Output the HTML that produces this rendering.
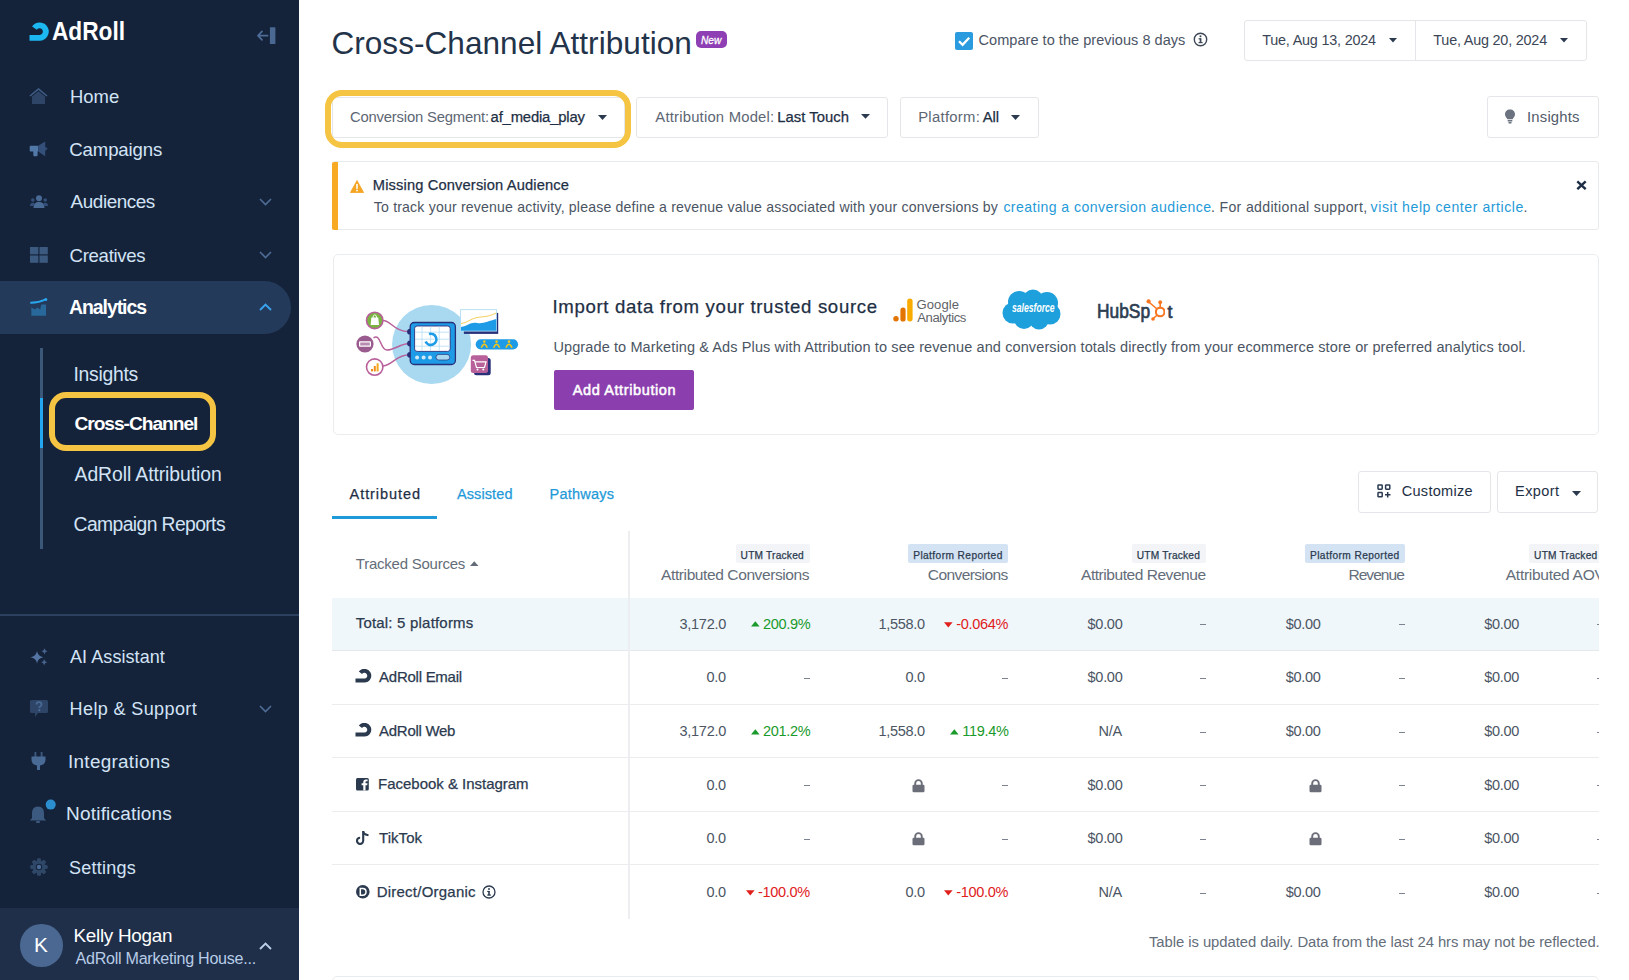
<!DOCTYPE html>
<html><head><meta charset="utf-8"><title>Cross-Channel Attribution</title>
<style>
html,body{margin:0;padding:0;width:1629px;height:980px;overflow:hidden;background:#fff;}
body{position:relative;font-family:"Liberation Sans",sans-serif;}
.t{position:absolute;white-space:nowrap;}
.r{position:absolute;box-sizing:border-box;}
</style></head><body>
<div class="r" style="left:0px;top:0px;width:299px;height:980px;z-index:0;background:#15233a;"></div>
<svg class="r" style="left:28px;top:21px;z-index:3" width="23" height="22" viewBox="0 0 23 22"><path d="M1.5 16.8 H11.6 A6.2 6.2 0 1 0 6.46 7.13" fill="none" stroke="#1cb8f2" stroke-width="5.8"/></svg>
<div class="t" style="left:51.62px;top:19.40px;font-size:25.87px;line-height:25.87px;color:#ffffff;font-weight:700;transform:scaleX(0.8765);transform-origin:0 0;z-index:2;">AdRoll</div>
<svg class="r" style="left:256px;top:26px;z-index:3" width="21" height="19" viewBox="0 0 21 19"><path d="M2.3 9.6 H11.6 M6 5.4 L2 9.6 L6 13.8" fill="none" stroke="#4d6d98" stroke-width="1.7" stroke-linecap="round" stroke-linejoin="round"/><rect x="13.9" y="1.3" width="5.5" height="16.6" rx="0.5" fill="#4a6892"/></svg>
<svg class="r" style="left:29px;top:88px;z-index:3" width="19" height="16" viewBox="0 0 19 16"><path d="M1 8 L9.5 1 L18 8" fill="none" stroke="#3f5e88" stroke-width="1.6"/><path d="M3 8.5 L9.5 3.2 L16 8.5 V16 H3 Z" fill="#2e4567"/></svg>
<div class="t" style="left:70.00px;top:88.12px;font-size:18.46px;line-height:18.46px;color:#d3e3f6;z-index:2;">Home</div>
<svg class="r" style="left:29px;top:141px;z-index:3" width="19" height="16" viewBox="0 0 19 16"><rect x="0.7" y="4.7" width="8.5" height="5.8" rx="1" fill="#5278a8"/><rect x="4.3" y="9.5" width="4.3" height="5.8" rx="1.2" fill="#5278a8"/><path d="M9.2 4.7 L16.2 0.4 V15.2 L9.2 10.5 Z" fill="#34507a"/><path d="M16.2 5.6 L18.7 7.8 L16.2 10Z" fill="#34507a"/></svg>
<div class="t" style="left:69.30px;top:141.35px;font-size:18.60px;line-height:18.60px;color:#d3e3f6;letter-spacing:-0.138px;z-index:2;">Campaigns</div>
<svg class="r" style="left:30px;top:195px;z-index:3" width="18" height="13" viewBox="0 0 18 13"><circle cx="9" cy="3.2" r="3" fill="#4a6a96"/><path d="M3.5 13 C3.5 8.5 6 7 9 7 C12 7 14.5 8.5 14.5 13 Z" fill="#4a6a96"/><circle cx="2.8" cy="5" r="1.8" fill="#34507a"/><circle cx="15.2" cy="5" r="1.8" fill="#34507a"/><path d="M0 11 C0 8.5 1.2 7.8 2.8 7.8 C3.8 7.8 4.2 8 4.5 8.5 L3.5 11Z M18 11 C18 8.5 16.8 7.8 15.2 7.8 C14.2 7.8 13.8 8 13.5 8.5 L14.5 11Z" fill="#34507a"/></svg>
<div class="t" style="left:70.60px;top:193.41px;font-size:18.90px;line-height:18.90px;color:#d3e3f6;letter-spacing:-0.438px;z-index:2;">Audiences</div>
<svg class="r" style="left:259px;top:197.5px;z-index:3" width="13" height="8" viewBox="0 0 13 8"><path d="M1 1 L6.5 6.5 L12 1" fill="none" stroke="#4d6d96" stroke-width="1.6"/></svg>
<svg class="r" style="left:30px;top:247px;z-index:3" width="18" height="16" viewBox="0 0 18 16"><rect x="0" y="0" width="8.3" height="7.3" fill="#3c5a80"/><rect x="9.5" y="0" width="8.3" height="7.3" fill="#3c5a80"/><rect x="0" y="8.5" width="8.3" height="7.3" fill="#3c5a80"/><rect x="9.5" y="8.5" width="8.3" height="7.3" fill="#3c5a80"/></svg>
<div class="t" style="left:69.60px;top:246.55px;font-size:18.60px;line-height:18.60px;color:#d3e3f6;letter-spacing:-0.312px;z-index:2;">Creatives</div>
<svg class="r" style="left:259px;top:251px;z-index:3" width="13" height="8" viewBox="0 0 13 8"><path d="M1 1 L6.5 6.5 L12 1" fill="none" stroke="#4d6d96" stroke-width="1.6"/></svg>
<div class="r" style="left:0px;top:281px;width:291px;height:53px;z-index:1;background:#233a5a;border-radius:0 27px 27px 0;"></div>
<svg class="r" style="left:30px;top:298px;z-index:3" width="18" height="18" viewBox="0 0 18 18"><path d="M1 4.7 Q9 4.6 15.3 1.6" fill="none" stroke="#2aa6ee" stroke-width="1.9" stroke-linecap="round"/><circle cx="15.8" cy="1.5" r="1.5" fill="#2aa6ee"/><path d="M1.3 9.5 L5 11.6 L7.3 9.5 L10.2 11.6 L11.3 6.6 H16 V17.7 H1.3 Z" fill="#28689a"/></svg>
<div class="t" style="left:69.00px;top:298.41px;font-size:19.48px;line-height:19.48px;color:#ffffff;font-weight:700;letter-spacing:-1.075px;z-index:2;">Analytics</div>
<svg class="r" style="left:259px;top:303px;z-index:3" width="13" height="8" viewBox="0 0 13 8"><path d="M1 7 L6.5 1.5 L12 7" fill="none" stroke="#3aa3ee" stroke-width="1.9"/></svg>
<div class="r" style="left:40px;top:348px;width:2.5px;height:201px;z-index:1;background:#3b5878;"></div>
<div class="r" style="left:40px;top:398px;width:2.5px;height:50px;z-index:2;background:#22a7f0;"></div>
<div class="t" style="left:73.40px;top:364.99px;font-size:19.33px;line-height:19.33px;color:#d3e3f6;letter-spacing:-0.257px;z-index:2;">Insights</div>
<div class="t" style="left:74.40px;top:414.46px;font-size:19.19px;line-height:19.19px;color:#ffffff;font-weight:700;letter-spacing:-1.042px;z-index:2;">Cross-Channel</div>
<div class="r" style="left:49px;top:391.5px;width:167px;height:59.5px;z-index:3;border:6px solid #f5c443;border-radius:17px;"></div>
<div class="t" style="left:74.60px;top:464.79px;font-size:19.33px;line-height:19.33px;color:#d3e3f6;letter-spacing:-0.071px;z-index:2;">AdRoll Attribution</div>
<div class="t" style="left:73.60px;top:515.39px;font-size:19.33px;line-height:19.33px;color:#d3e3f6;letter-spacing:-0.613px;z-index:2;">Campaign Reports</div>
<div class="r" style="left:0px;top:614px;width:299px;height:2px;z-index:1;background:#2b415f;"></div>
<svg class="r" style="left:30px;top:648px;z-index:3" width="18" height="18" viewBox="0 0 18 18"><path d="M7 3 Q7.8 8.2 13.5 9.2 Q7.8 10.2 7 15.4 Q6.2 10.2 0.5 9.2 Q6.2 8.2 7 3Z" fill="#5475a3"/><path d="M14.5 0.3 Q15 2.7 17.4 3.3 Q15 3.9 14.5 6.3 Q14 3.9 11.6 3.3 Q14 2.7 14.5 0.3Z" fill="#46648e"/><path d="M14.2 11.3 Q14.7 13.7 17.1 14.3 Q14.7 14.9 14.2 17.3 Q13.7 14.9 11.3 14.3 Q13.7 13.7 14.2 11.3Z" fill="#46648e"/></svg>
<div class="t" style="left:70.00px;top:648.04px;font-size:18.02px;line-height:18.02px;color:#d3e3f6;letter-spacing:0.064px;z-index:2;">AI Assistant</div>
<svg class="r" style="left:30px;top:700px;z-index:3" width="18" height="17" viewBox="0 0 18 17"><path d="M1.5 0 H16.5 Q18 0 18 1.5 V11.5 Q18 13 16.5 13 H8 L5 17 V13 H1.5 Q0 13 0 11.5 V1.5 Q0 0 1.5 0Z" fill="#2e4567"/><path d="M6.5 4.5 Q6.5 2.2 9 2.2 Q11.5 2.2 11.5 4.5 Q11.5 6 9.5 7 V8" fill="none" stroke="#4a6a96" stroke-width="1.8"/><circle cx="9.3" cy="10.2" r="1.1" fill="#4a6a96"/></svg>
<div class="t" style="left:69.60px;top:700.44px;font-size:18.02px;line-height:18.02px;color:#d3e3f6;letter-spacing:0.377px;z-index:2;">Help &amp; Support</div>
<svg class="r" style="left:259px;top:704.5px;z-index:3" width="13" height="8" viewBox="0 0 13 8"><path d="M1 1 L6.5 6.5 L12 1" fill="none" stroke="#4d6d96" stroke-width="1.6"/></svg>
<svg class="r" style="left:31px;top:752px;z-index:3" width="15" height="18" viewBox="0 0 15 18"><rect x="3.5" y="0" width="1.8" height="5" fill="#3c5a80"/><rect x="9.7" y="0" width="1.8" height="5" fill="#3c5a80"/><path d="M0.5 4.5 H14.5 V8 Q14.5 12.5 9 13.5 V18 H6 V13.5 Q0.5 12.5 0.5 8Z" fill="#4a6a96"/></svg>
<div class="t" style="left:68.00px;top:753.41px;font-size:18.90px;line-height:18.90px;color:#d3e3f6;letter-spacing:0.291px;z-index:2;">Integrations</div>
<svg class="r" style="left:29px;top:799px;z-index:3" width="27" height="25" viewBox="0 0 27 25"><path d="M9 7.5 Q15 7.5 15 14 V19 L17 21.5 H1 L3 19 V14 Q3 7.5 9 7.5Z" fill="#3c5a80"/><rect x="7" y="22" width="4" height="2" rx="1" fill="#3c5a80"/><circle cx="21.7" cy="5.6" r="5" fill="#2b8fcf"/></svg>
<div class="t" style="left:66.10px;top:804.23px;font-size:19.04px;line-height:19.04px;color:#d3e3f6;letter-spacing:0.175px;z-index:2;">Notifications</div>
<svg class="r" style="left:30px;top:858px;z-index:3" width="18" height="18" viewBox="0 0 18 18"><g fill="#2f4868"><circle cx="9" cy="9" r="6.5"/><rect x="7" y="0.3" width="4" height="17.4" rx="1.2"/><rect x="0.3" y="7" width="17.4" height="4" rx="1.2"/><rect x="7" y="0.3" width="4" height="17.4" rx="1.2" transform="rotate(45 9 9)"/><rect x="7" y="0.3" width="4" height="17.4" rx="1.2" transform="rotate(-45 9 9)"/></g><circle cx="9" cy="9" r="3.2" fill="#15233a"/><circle cx="9" cy="9" r="2.2" fill="#4a6a96"/></svg>
<div class="t" style="left:69.00px;top:858.84px;font-size:18.02px;line-height:18.02px;color:#d3e3f6;letter-spacing:0.243px;z-index:2;">Settings</div>
<div class="r" style="left:0px;top:907.5px;width:299px;height:72.5px;z-index:1;background:#1f2f4a;"></div>
<div class="r" style="left:20px;top:924px;width:42.5px;height:42.5px;z-index:2;background:#4a6891;border-radius:50%;"></div>
<div class="t" style="left:33.90px;top:935.46px;font-size:20.78px;line-height:20.78px;color:#ffffff;z-index:2;">K</div>
<div class="t" style="left:73.50px;top:927.01px;font-size:18.90px;line-height:18.90px;color:#ffffff;letter-spacing:-0.290px;z-index:2;">Kelly Hogan</div>
<div class="t" style="left:75.50px;top:950.19px;font-size:16.13px;line-height:16.13px;color:#b7cce6;letter-spacing:-0.271px;z-index:2;">AdRoll Marketing House...</div>
<svg class="r" style="left:259px;top:941.5px;z-index:3" width="13" height="8" viewBox="0 0 13 8"><path d="M1 7 L6.5 1.5 L12 7" fill="none" stroke="#bccfe8" stroke-width="1.9"/></svg>
<div class="t" style="left:331.40px;top:27.85px;font-size:31.54px;line-height:31.54px;color:#22334a;letter-spacing:0.050px;z-index:2;">Cross-Channel Attribution</div>
<div class="r" style="left:696.2px;top:31.1px;width:30.4px;height:17px;z-index:2;background:#8e3fb3;border-radius:5px;"></div>
<div class="t" style="left:701.30px;top:34.36px;font-size:11.63px;line-height:11.63px;color:#ffffff;font-style:italic;-webkit-text-stroke:0.3px #ffffff;transform:scaleX(0.8750);transform-origin:0 0;z-index:3;">New</div>
<div class="r" style="left:955.3px;top:32px;width:18px;height:17.6px;z-index:2;background:#2b9be0;border-radius:2px;"></div>
<svg class="r" style="left:955px;top:32px;z-index:3" width="18" height="18" viewBox="0 0 18 18"><path d="M4 9.3 L7.6 12.8 L14.2 5.8" fill="none" stroke="#fff" stroke-width="2.3"/></svg>
<div class="t" style="left:978.60px;top:32.70px;font-size:14.53px;line-height:14.53px;color:#4b5565;letter-spacing:0.034px;z-index:2;">Compare to the previous 8 days</div>
<svg class="r" style="left:1193px;top:32px;z-index:3" width="15" height="15" viewBox="0 0 15 15"><circle cx="7.5" cy="7.5" r="6.2" fill="none" stroke="#3d4756" stroke-width="1.4"/><rect x="6.7" y="6.3" width="1.7" height="4.6" fill="#3d4756"/><rect x="5.6" y="6.2" width="2.5" height="1.2" fill="#3d4756"/><rect x="5.6" y="10" width="4" height="1.2" fill="#3d4756"/><circle cx="7.5" cy="4.2" r="1" fill="#3d4756"/></svg>
<div class="r" style="left:1243.7px;top:19.8px;width:343px;height:41px;z-index:1;border:1px solid #e4e6e9;border-radius:3px;background:#fff;"></div>
<div class="r" style="left:1415px;top:20px;width:1px;height:40px;z-index:2;background:#e4e6e9;"></div>
<div class="t" style="left:1262.20px;top:33.27px;font-size:14.39px;line-height:14.39px;color:#3b4656;letter-spacing:-0.194px;z-index:2;">Tue, Aug 13, 2024</div>
<div class="t" style="left:1433.30px;top:33.27px;font-size:14.39px;line-height:14.39px;color:#3b4656;letter-spacing:-0.194px;z-index:2;">Tue, Aug 20, 2024</div>
<svg class="r" style="left:1389px;top:38.3px;z-index:3" width="8" height="4.6" viewBox="0 0 8 4.6"><path d="M0 0 H8 L4.0 4.6Z" fill="#2b3a4f"/></svg>
<svg class="r" style="left:1560px;top:38.3px;z-index:3" width="8" height="4.6" viewBox="0 0 8 4.6"><path d="M0 0 H8 L4.0 4.6Z" fill="#2b3a4f"/></svg>
<div class="r" style="left:332px;top:96.6px;width:293px;height:41px;z-index:1;border:1px solid #e4e6e9;border-radius:3px;background:#fff;"></div>
<div class="t" style="left:349.90px;top:109.55px;font-size:14.83px;line-height:14.83px;color:#5d6673;letter-spacing:-0.189px;z-index:2;">Conversion Segment:</div>
<div class="t" style="left:490.60px;top:109.55px;font-size:14.83px;line-height:14.83px;color:#1e2f45;letter-spacing:-0.175px;-webkit-text-stroke:0.25px #1e2f45;z-index:2;">af_media_play</div>
<svg class="r" style="left:597.6px;top:114.5px;z-index:3" width="9" height="5" viewBox="0 0 9 5"><path d="M0 0 H9 L4.5 5Z" fill="#2b3a4f"/></svg>
<div class="r" style="left:325.2px;top:90.2px;width:306px;height:58px;z-index:3;border:6px solid #f5c443;border-radius:17px;"></div>
<div class="r" style="left:636.4px;top:96.6px;width:252px;height:41px;z-index:1;border:1px solid #e4e6e9;border-radius:3px;background:#fff;"></div>
<div class="t" style="left:655.30px;top:109.55px;font-size:14.83px;line-height:14.83px;color:#5d6673;letter-spacing:0.206px;z-index:2;">Attribution Model:</div>
<div class="t" style="left:777.30px;top:109.55px;font-size:14.83px;line-height:14.83px;color:#1e2f45;letter-spacing:0.022px;-webkit-text-stroke:0.25px #1e2f45;z-index:2;">Last Touch</div>
<svg class="r" style="left:861.2px;top:114.4px;z-index:3" width="9" height="4.7" viewBox="0 0 9 4.7"><path d="M0 0 H9 L4.5 4.7Z" fill="#2b3a4f"/></svg>
<div class="r" style="left:900.2px;top:96.6px;width:138.4px;height:41px;z-index:1;border:1px solid #e4e6e9;border-radius:3px;background:#fff;"></div>
<div class="t" style="left:918.20px;top:109.55px;font-size:14.83px;line-height:14.83px;color:#5d6673;letter-spacing:0.287px;z-index:2;">Platform:</div>
<div class="t" style="left:982.70px;top:109.55px;font-size:14.83px;line-height:14.83px;color:#1e2f45;letter-spacing:-0.050px;-webkit-text-stroke:0.25px #1e2f45;z-index:2;">All</div>
<svg class="r" style="left:1011.3px;top:114.5px;z-index:3" width="9" height="5" viewBox="0 0 9 5"><path d="M0 0 H9 L4.5 5Z" fill="#2b3a4f"/></svg>
<div class="r" style="left:1487.1px;top:96.4px;width:111.5px;height:41.2px;z-index:1;border:1px solid #e4e6e9;border-radius:3px;background:#fff;"></div>
<svg class="r" style="left:1504px;top:109px;z-index:3" width="12" height="15" viewBox="0 0 12 15"><path d="M6 0.5 C9 0.5 11 2.6 11 5.3 C11 7.5 9.5 8.5 8.6 10.2 H3.4 C2.5 8.5 1 7.5 1 5.3 C1 2.6 3 0.5 6 0.5Z" fill="#6b7280"/><rect x="3.6" y="11" width="4.8" height="1.6" rx="0.5" fill="#6b7280"/><rect x="4.3" y="13" width="3.4" height="1.5" rx="0.7" fill="#6b7280"/></svg>
<div class="t" style="left:1527.00px;top:109.55px;font-size:14.83px;line-height:14.83px;color:#525b69;letter-spacing:0.200px;z-index:2;">Insights</div>
<div class="r" style="left:332px;top:161.4px;width:1266.6px;height:68.2px;z-index:1;border:1px solid #e8ebee;border-radius:3px;background:#fff;"></div>
<div class="r" style="left:332px;top:162px;width:5.5px;height:67.6px;z-index:2;background:#f8aa24;border-radius:2px 0 0 2px;"></div>
<svg class="r" style="left:349.5px;top:179.5px;z-index:3" width="14" height="13" viewBox="0 0 14 13"><path d="M7 0.5 L13.6 12.5 H0.4 Z" fill="#f5a524" stroke="#f5a524" stroke-width="0.8" stroke-linejoin="round"/><rect x="6.2" y="4" width="1.6" height="4.8" fill="#fff"/><rect x="6.2" y="9.7" width="1.6" height="1.6" fill="#fff"/></svg>
<div class="t" style="left:372.80px;top:177.52px;font-size:14.68px;line-height:14.68px;color:#1e2f45;letter-spacing:0.142px;-webkit-text-stroke:0.25px #1e2f45;z-index:2;">Missing Conversion Audience</div>
<div class="t" style="left:373.80px;top:199.62px;font-size:14.10px;line-height:14.10px;color:#4b5563;letter-spacing:0.179px;z-index:2;">To track your revenue activity, please define a revenue value associated with your conversions by</div>
<div class="t" style="left:1003.40px;top:199.62px;font-size:14.10px;line-height:14.10px;color:#1f9ad8;letter-spacing:0.434px;z-index:2;">creating a conversion audience</div>
<div class="t" style="left:1211.00px;top:199.62px;font-size:14.10px;line-height:14.10px;color:#4b5563;letter-spacing:0.333px;z-index:2;">. For additional support,</div>
<div class="t" style="left:1370.60px;top:199.62px;font-size:14.10px;line-height:14.10px;color:#1f9ad8;letter-spacing:0.554px;z-index:2;">visit help center article</div>
<div class="t" style="left:1523.50px;top:199.62px;font-size:14.10px;line-height:14.10px;color:#4b5563;z-index:2;">.</div>
<svg class="r" style="left:1576px;top:179.5px;z-index:3" width="11" height="10.5" viewBox="0 0 11 10.5"><path d="M1.3 1.3 L9.7 9.2 M9.7 1.3 L1.3 9.2" stroke="#1e2f45" stroke-width="2.4"/></svg>
<div class="r" style="left:332.8px;top:254.2px;width:1266px;height:181px;z-index:1;border:1px solid #eaedf0;border-radius:5px;background:#fff;"></div>
<div class="t" style="left:552.40px;top:297.95px;font-size:18.60px;line-height:18.60px;color:#1e2f45;letter-spacing:0.686px;-webkit-text-stroke:0.25px #1e2f45;z-index:2;">Import data from your trusted source</div>
<div class="t" style="left:553.40px;top:339.90px;font-size:14.53px;line-height:14.53px;color:#4b5563;letter-spacing:0.105px;z-index:2;">Upgrade to Marketing &amp; Ads Plus with Attribution to see revenue and conversion totals directly from your ecommerce store or preferred analytics tool.</div>
<div class="r" style="left:553.9px;top:370.1px;width:140.4px;height:40.4px;z-index:2;background:#8b3fae;border-radius:2px;"></div>
<div class="t" style="left:572.70px;top:382.90px;font-size:14.53px;line-height:14.53px;color:#ffffff;letter-spacing:0.607px;-webkit-text-stroke:0.5px #ffffff;z-index:3;">Add Attribution</div>
<div class="t" style="left:349.60px;top:486.90px;font-size:14.53px;line-height:14.53px;color:#1e2f45;letter-spacing:0.922px;-webkit-text-stroke:0.25px #1e2f45;z-index:2;">Attributed</div>
<div class="t" style="left:457.00px;top:486.90px;font-size:14.53px;line-height:14.53px;color:#1f9ad8;letter-spacing:0.086px;-webkit-text-stroke:0.25px #1f9ad8;z-index:2;">Assisted</div>
<div class="t" style="left:549.50px;top:486.90px;font-size:14.53px;line-height:14.53px;color:#1f9ad8;letter-spacing:0.243px;-webkit-text-stroke:0.25px #1f9ad8;z-index:2;">Pathways</div>
<div class="r" style="left:332px;top:516px;width:105px;height:3px;z-index:2;background:#1f9ad8;"></div>
<div class="r" style="left:1358.2px;top:471.1px;width:132.6px;height:42px;z-index:1;border:1px solid #e4e6e9;border-radius:3px;background:#fff;"></div>
<svg class="r" style="left:1376.5px;top:483.5px;z-index:3" width="14" height="14" viewBox="0 0 14 14"><g fill="none" stroke="#2b3a4f" stroke-width="1.5"><rect x="1" y="1" width="4.2" height="4.2" rx="0.6"/><rect x="8.6" y="1" width="4.2" height="4.2" rx="0.6"/><rect x="1" y="8.6" width="4.2" height="4.2" rx="0.6"/><path d="M10.7 8 V13.5 M8 10.7 H13.5"/></g></svg>
<div class="t" style="left:1401.70px;top:484.10px;font-size:14.53px;line-height:14.53px;color:#1e2f45;letter-spacing:0.300px;z-index:2;">Customize</div>
<div class="r" style="left:1497px;top:471.1px;width:101.3px;height:42px;z-index:1;border:1px solid #e4e6e9;border-radius:3px;background:#fff;"></div>
<div class="t" style="left:1515.10px;top:484.10px;font-size:14.53px;line-height:14.53px;color:#1e2f45;letter-spacing:0.380px;z-index:2;">Export</div>
<svg class="r" style="left:1571.5px;top:491px;z-index:3" width="9" height="5" viewBox="0 0 9 5"><path d="M0 0 H9 L4.5 5Z" fill="#2b3a4f"/></svg>
<div class="r" style="left:628.2px;top:530.5px;width:2px;height:388px;z-index:2;background:#eceef1;"></div>
<div class="t" style="left:355.80px;top:556.98px;font-size:14.97px;line-height:14.97px;color:#646d79;letter-spacing:-0.221px;z-index:2;">Tracked Sources</div>
<svg class="r" style="left:469.5px;top:561.2px;z-index:3" width="9" height="6" viewBox="0 0 9 6"><path d="M0 5 H8.5 L4.25 0.3Z" fill="#646b78"/></svg>
<div class="r" style="left:735.6px;top:544.2px;width:74.39999999999998px;height:19px;z-index:1;background:#f2f4f7;border-radius:2px;"></div>
<div class="t" style="left:740.60px;top:550.89px;font-size:10.17px;line-height:10.17px;color:#2b3a4f;letter-spacing:0.210px;-webkit-text-stroke:0.25px #2b3a4f;z-index:2;">UTM Tracked</div>
<div class="r" style="left:908.2px;top:544.2px;width:100.0px;height:19px;z-index:1;background:#d3e3f3;border-radius:2px;"></div>
<div class="t" style="left:913.20px;top:550.89px;font-size:10.17px;line-height:10.17px;color:#2b3a4f;letter-spacing:0.419px;-webkit-text-stroke:0.25px #2b3a4f;z-index:2;">Platform Reported</div>
<div class="r" style="left:1131.8px;top:544.2px;width:74.40000000000009px;height:19px;z-index:1;background:#f2f4f7;border-radius:2px;"></div>
<div class="t" style="left:1136.80px;top:550.89px;font-size:10.17px;line-height:10.17px;color:#2b3a4f;letter-spacing:0.210px;-webkit-text-stroke:0.25px #2b3a4f;z-index:2;">UTM Tracked</div>
<div class="r" style="left:1305px;top:544.2px;width:100px;height:19px;z-index:1;background:#d3e3f3;border-radius:2px;"></div>
<div class="t" style="left:1310.00px;top:550.89px;font-size:10.17px;line-height:10.17px;color:#2b3a4f;letter-spacing:0.419px;-webkit-text-stroke:0.25px #2b3a4f;z-index:2;">Platform Reported</div>
<div class="r" style="left:1529.1px;top:544.2px;width:74.40000000000009px;height:19px;z-index:1;background:#f2f4f7;border-radius:2px;"></div>
<div class="t" style="left:1534.10px;top:550.89px;font-size:10.17px;line-height:10.17px;color:#2b3a4f;letter-spacing:0.210px;-webkit-text-stroke:0.25px #2b3a4f;z-index:2;">UTM Tracked</div>
<div class="t" style="left:661.10px;top:566.68px;font-size:15.55px;line-height:15.55px;color:#646d79;letter-spacing:-0.419px;z-index:2;">Attributed Conversions</div>
<div class="t" style="left:927.80px;top:566.68px;font-size:15.55px;line-height:15.55px;color:#646d79;letter-spacing:-0.590px;z-index:2;">Conversions</div>
<div class="t" style="left:1081.00px;top:566.68px;font-size:15.55px;line-height:15.55px;color:#646d79;letter-spacing:-0.471px;z-index:2;">Attributed Revenue</div>
<div class="t" style="left:1348.40px;top:566.68px;font-size:15.55px;line-height:15.55px;color:#646d79;letter-spacing:-0.967px;z-index:2;">Revenue</div>
<div class="t" style="left:1505.80px;top:566.68px;font-size:15.55px;line-height:15.55px;color:#646d79;letter-spacing:-0.292px;z-index:2;">Attributed AOV</div>
<div class="r" style="left:331.8px;top:597.7px;width:1266.8px;height:52.7px;z-index:0;background:#f0f7fb;"></div>
<div class="r" style="left:331.8px;top:650px;width:1266.8px;height:1px;z-index:1;background:#e6e8eb;"></div>
<div class="r" style="left:331.8px;top:704px;width:1266.8px;height:1px;z-index:1;background:#ebecee;"></div>
<div class="r" style="left:331.8px;top:757px;width:1266.8px;height:1px;z-index:1;background:#ebecee;"></div>
<div class="r" style="left:331.8px;top:811px;width:1266.8px;height:1px;z-index:1;background:#ebecee;"></div>
<div class="r" style="left:331.8px;top:864px;width:1266.8px;height:1px;z-index:1;background:#ebecee;"></div>
<div class="r" style="left:1598.6px;top:530px;width:31px;height:400px;z-index:5;background:#fff;"></div>
<div class="t" style="left:355.70px;top:616.38px;font-size:14.97px;line-height:14.97px;color:#2b3a4f;letter-spacing:0.212px;-webkit-text-stroke:0.25px #2b3a4f;z-index:2;">Total: 5 platforms</div>
<div class="t" style="left:679.60px;top:616.80px;font-size:14.53px;line-height:14.53px;color:#4b5563;letter-spacing:-0.300px;z-index:2;">3,172.0</div>
<div class="t" style="left:763.00px;top:616.50px;font-size:14.53px;line-height:14.53px;color:#1a9a2a;letter-spacing:-0.300px;z-index:2;">200.9%</div>
<svg class="r" style="left:751.0px;top:621.4px;z-index:3" width="9" height="6" viewBox="0 0 9 6"><path d="M0 5.5 H8.6 L4.3 0.2Z" fill="#1a9a2a"/></svg>
<div class="t" style="left:878.40px;top:616.80px;font-size:14.53px;line-height:14.53px;color:#4b5563;letter-spacing:-0.300px;z-index:2;">1,558.0</div>
<div class="t" style="left:956.20px;top:616.50px;font-size:14.53px;line-height:14.53px;color:#e0201c;letter-spacing:-0.300px;z-index:2;">-0.064%</div>
<svg class="r" style="left:944.2px;top:621.6999999999999px;z-index:3" width="9" height="6" viewBox="0 0 9 6"><path d="M0 0.3 H8.6 L4.3 5.6Z" fill="#e0201c"/></svg>
<div class="t" style="left:1087.60px;top:616.75px;font-size:14.53px;line-height:14.53px;color:#4b5563;letter-spacing:-0.300px;z-index:2;">$0.00</div>
<div class="r" style="left:1200.0px;top:624.3px;width:6.2px;height:1.2px;z-index:2;background:#7b8390;"></div>
<div class="t" style="left:1285.80px;top:616.75px;font-size:14.53px;line-height:14.53px;color:#4b5563;letter-spacing:-0.300px;z-index:2;">$0.00</div>
<div class="r" style="left:1398.8px;top:624.3px;width:6.2px;height:1.2px;z-index:2;background:#7b8390;"></div>
<div class="t" style="left:1484.30px;top:616.75px;font-size:14.53px;line-height:14.53px;color:#4b5563;letter-spacing:-0.300px;z-index:2;">$0.00</div>
<div class="r" style="left:1597.3px;top:624.3px;width:6.2px;height:1.2px;z-index:2;background:#7b8390;"></div>
<div class="t" style="left:379.10px;top:669.68px;font-size:14.97px;line-height:14.97px;color:#2b3a4f;letter-spacing:-0.245px;-webkit-text-stroke:0.25px #2b3a4f;z-index:2;">AdRoll Email</div>
<svg class="r" style="left:355px;top:669.05px;z-index:3" width="17" height="15" viewBox="0 0 17 15"><path d="M0.5 11.6 H9.4 A4.9 4.9 0 1 0 5.4 3.8" fill="none" stroke="#2b3a4f" stroke-width="4"/></svg>
<div class="t" style="left:706.60px;top:670.40px;font-size:14.53px;line-height:14.53px;color:#4b5563;letter-spacing:-0.300px;z-index:2;">0.0</div>
<div class="r" style="left:803.8px;top:677.9499999999999px;width:6.2px;height:1.2px;z-index:2;background:#7b8390;"></div>
<div class="t" style="left:905.40px;top:670.40px;font-size:14.53px;line-height:14.53px;color:#4b5563;letter-spacing:-0.300px;z-index:2;">0.0</div>
<div class="r" style="left:1002.0px;top:677.9499999999999px;width:6.2px;height:1.2px;z-index:2;background:#7b8390;"></div>
<div class="t" style="left:1087.60px;top:670.40px;font-size:14.53px;line-height:14.53px;color:#4b5563;letter-spacing:-0.300px;z-index:2;">$0.00</div>
<div class="r" style="left:1200.0px;top:677.9499999999999px;width:6.2px;height:1.2px;z-index:2;background:#7b8390;"></div>
<div class="t" style="left:1285.80px;top:670.40px;font-size:14.53px;line-height:14.53px;color:#4b5563;letter-spacing:-0.300px;z-index:2;">$0.00</div>
<div class="r" style="left:1398.8px;top:677.9499999999999px;width:6.2px;height:1.2px;z-index:2;background:#7b8390;"></div>
<div class="t" style="left:1484.30px;top:670.40px;font-size:14.53px;line-height:14.53px;color:#4b5563;letter-spacing:-0.300px;z-index:2;">$0.00</div>
<div class="r" style="left:1597.3px;top:677.9499999999999px;width:6.2px;height:1.2px;z-index:2;background:#7b8390;"></div>
<div class="t" style="left:379.10px;top:723.98px;font-size:14.97px;line-height:14.97px;color:#2b3a4f;letter-spacing:-0.278px;-webkit-text-stroke:0.25px #2b3a4f;z-index:2;">AdRoll Web</div>
<svg class="r" style="left:355px;top:722.6999999999999px;z-index:3" width="17" height="15" viewBox="0 0 17 15"><path d="M0.5 11.6 H9.4 A4.9 4.9 0 1 0 5.4 3.8" fill="none" stroke="#2b3a4f" stroke-width="4"/></svg>
<div class="t" style="left:679.60px;top:724.10px;font-size:14.53px;line-height:14.53px;color:#4b5563;letter-spacing:-0.300px;z-index:2;">3,172.0</div>
<div class="t" style="left:763.00px;top:724.10px;font-size:14.53px;line-height:14.53px;color:#1a9a2a;letter-spacing:-0.300px;z-index:2;">201.2%</div>
<svg class="r" style="left:751.0px;top:728.6999999999999px;z-index:3" width="9" height="6" viewBox="0 0 9 6"><path d="M0 5.5 H8.6 L4.3 0.2Z" fill="#1a9a2a"/></svg>
<div class="t" style="left:878.40px;top:724.10px;font-size:14.53px;line-height:14.53px;color:#4b5563;letter-spacing:-0.300px;z-index:2;">1,558.0</div>
<div class="t" style="left:962.20px;top:724.10px;font-size:14.53px;line-height:14.53px;color:#1a9a2a;letter-spacing:-0.300px;z-index:2;">119.4%</div>
<svg class="r" style="left:950.2px;top:728.6999999999999px;z-index:3" width="9" height="6" viewBox="0 0 9 6"><path d="M0 5.5 H8.6 L4.3 0.2Z" fill="#1a9a2a"/></svg>
<div class="t" style="left:1098.60px;top:724.05px;font-size:14.53px;line-height:14.53px;color:#4b5563;letter-spacing:-0.300px;z-index:2;">N/A</div>
<div class="r" style="left:1200.0px;top:731.5999999999999px;width:6.2px;height:1.2px;z-index:2;background:#7b8390;"></div>
<div class="t" style="left:1285.80px;top:724.05px;font-size:14.53px;line-height:14.53px;color:#4b5563;letter-spacing:-0.300px;z-index:2;">$0.00</div>
<div class="r" style="left:1398.8px;top:731.5999999999999px;width:6.2px;height:1.2px;z-index:2;background:#7b8390;"></div>
<div class="t" style="left:1484.30px;top:724.05px;font-size:14.53px;line-height:14.53px;color:#4b5563;letter-spacing:-0.300px;z-index:2;">$0.00</div>
<div class="r" style="left:1597.3px;top:731.5999999999999px;width:6.2px;height:1.2px;z-index:2;background:#7b8390;"></div>
<div class="t" style="left:378.10px;top:777.28px;font-size:14.97px;line-height:14.97px;color:#2b3a4f;letter-spacing:-0.005px;-webkit-text-stroke:0.25px #2b3a4f;z-index:2;">Facebook &amp; Instagram</div>
<svg class="r" style="left:355.8px;top:777.8499999999999px;z-index:3" width="13" height="13" viewBox="0 0 13 13"><rect x="0" y="0" width="12.8" height="12.5" rx="1.5" fill="#2b3a4f"/><path d="M9.5 12.5 V7.2 H11.2 L11.5 5.2 H9.5 V4.2 Q9.5 3.3 10.4 3.3 H11.6 V1.5 H9.8 Q7.3 1.5 7.3 4 V5.2 H5.6 V7.2 H7.3 V12.5Z" fill="#fff"/></svg>
<div class="t" style="left:706.60px;top:777.70px;font-size:14.53px;line-height:14.53px;color:#4b5563;letter-spacing:-0.300px;z-index:2;">0.0</div>
<div class="r" style="left:803.8px;top:785.2499999999999px;width:6.2px;height:1.2px;z-index:2;background:#7b8390;"></div>
<svg class="r" style="left:912.1px;top:778.6499999999999px;z-index:3" width="13" height="14" viewBox="0 0 13 14"><path d="M3.2 6 V4.4 A3.3 3.3 0 0 1 9.8 4.4 V6" fill="none" stroke="#6b6e78" stroke-width="1.9"/><rect x="0.5" y="5.8" width="12" height="7.4" rx="1.3" fill="#6b6e78"/></svg>
<div class="r" style="left:1002.0px;top:785.2499999999999px;width:6.2px;height:1.2px;z-index:2;background:#7b8390;"></div>
<div class="t" style="left:1087.60px;top:777.70px;font-size:14.53px;line-height:14.53px;color:#4b5563;letter-spacing:-0.300px;z-index:2;">$0.00</div>
<div class="r" style="left:1200.0px;top:785.2499999999999px;width:6.2px;height:1.2px;z-index:2;background:#7b8390;"></div>
<svg class="r" style="left:1308.5px;top:778.6499999999999px;z-index:3" width="13" height="14" viewBox="0 0 13 14"><path d="M3.2 6 V4.4 A3.3 3.3 0 0 1 9.8 4.4 V6" fill="none" stroke="#6b6e78" stroke-width="1.9"/><rect x="0.5" y="5.8" width="12" height="7.4" rx="1.3" fill="#6b6e78"/></svg>
<div class="r" style="left:1398.8px;top:785.2499999999999px;width:6.2px;height:1.2px;z-index:2;background:#7b8390;"></div>
<div class="t" style="left:1484.30px;top:777.70px;font-size:14.53px;line-height:14.53px;color:#4b5563;letter-spacing:-0.300px;z-index:2;">$0.00</div>
<div class="r" style="left:1597.3px;top:785.2499999999999px;width:6.2px;height:1.2px;z-index:2;background:#7b8390;"></div>
<div class="t" style="left:379.10px;top:830.58px;font-size:14.97px;line-height:14.97px;color:#2b3a4f;letter-spacing:0.040px;-webkit-text-stroke:0.25px #2b3a4f;z-index:2;">TikTok</div>
<svg class="r" style="left:355.8px;top:830.0px;z-index:3" width="14" height="15" viewBox="0 0 14 15"><path d="M7.2 1 V10.8 A3.1 3.1 0 1 1 4.1 7.7" fill="none" stroke="#2b3a4f" stroke-width="2.1"/><path d="M7.2 1.5 Q8 4.8 12.5 5.2" fill="none" stroke="#2b3a4f" stroke-width="2.1"/></svg>
<div class="t" style="left:706.60px;top:831.35px;font-size:14.53px;line-height:14.53px;color:#4b5563;letter-spacing:-0.300px;z-index:2;">0.0</div>
<div class="r" style="left:803.8px;top:838.9px;width:6.2px;height:1.2px;z-index:2;background:#7b8390;"></div>
<svg class="r" style="left:912.1px;top:832.3px;z-index:3" width="13" height="14" viewBox="0 0 13 14"><path d="M3.2 6 V4.4 A3.3 3.3 0 0 1 9.8 4.4 V6" fill="none" stroke="#6b6e78" stroke-width="1.9"/><rect x="0.5" y="5.8" width="12" height="7.4" rx="1.3" fill="#6b6e78"/></svg>
<div class="r" style="left:1002.0px;top:838.9px;width:6.2px;height:1.2px;z-index:2;background:#7b8390;"></div>
<div class="t" style="left:1087.60px;top:831.35px;font-size:14.53px;line-height:14.53px;color:#4b5563;letter-spacing:-0.300px;z-index:2;">$0.00</div>
<div class="r" style="left:1200.0px;top:838.9px;width:6.2px;height:1.2px;z-index:2;background:#7b8390;"></div>
<svg class="r" style="left:1308.5px;top:832.3px;z-index:3" width="13" height="14" viewBox="0 0 13 14"><path d="M3.2 6 V4.4 A3.3 3.3 0 0 1 9.8 4.4 V6" fill="none" stroke="#6b6e78" stroke-width="1.9"/><rect x="0.5" y="5.8" width="12" height="7.4" rx="1.3" fill="#6b6e78"/></svg>
<div class="r" style="left:1398.8px;top:838.9px;width:6.2px;height:1.2px;z-index:2;background:#7b8390;"></div>
<div class="t" style="left:1484.30px;top:831.35px;font-size:14.53px;line-height:14.53px;color:#4b5563;letter-spacing:-0.300px;z-index:2;">$0.00</div>
<div class="r" style="left:1597.3px;top:838.9px;width:6.2px;height:1.2px;z-index:2;background:#7b8390;"></div>
<div class="t" style="left:376.70px;top:884.88px;font-size:14.97px;line-height:14.97px;color:#2b3a4f;letter-spacing:0.246px;-webkit-text-stroke:0.25px #2b3a4f;z-index:2;">Direct/Organic</div>
<svg class="r" style="left:355.8px;top:885.35px;z-index:3" width="14" height="14" viewBox="0 0 14 14"><circle cx="6.8" cy="6.8" r="6.8" fill="#2b3a4f"/><path d="M4.3 3.4 H6.8 Q10 3.4 10 6.8 Q10 10.2 6.8 10.2 H4.3Z" fill="none" stroke="#fff" stroke-width="1.5"/></svg>
<svg class="r" style="left:482.3px;top:885.35px;z-index:3" width="14" height="14" viewBox="0 0 14 14"><circle cx="7" cy="7" r="6" fill="none" stroke="#2b3a4f" stroke-width="1.3"/><rect x="6.2" y="6" width="1.6" height="4.4" fill="#2b3a4f"/><rect x="5.2" y="5.9" width="2.4" height="1.1" fill="#2b3a4f"/><rect x="5.2" y="9.5" width="3.8" height="1.1" fill="#2b3a4f"/><circle cx="7" cy="4" r="0.95" fill="#2b3a4f"/></svg>
<div class="t" style="left:706.60px;top:885.00px;font-size:14.53px;line-height:14.53px;color:#4b5563;letter-spacing:-0.300px;z-index:2;">0.0</div>
<div class="t" style="left:758.00px;top:885.00px;font-size:14.53px;line-height:14.53px;color:#e0201c;letter-spacing:-0.300px;z-index:2;">-100.0%</div>
<svg class="r" style="left:746.0px;top:889.9499999999999px;z-index:3" width="9" height="6" viewBox="0 0 9 6"><path d="M0 0.3 H8.6 L4.3 5.6Z" fill="#e0201c"/></svg>
<div class="t" style="left:905.40px;top:885.00px;font-size:14.53px;line-height:14.53px;color:#4b5563;letter-spacing:-0.300px;z-index:2;">0.0</div>
<div class="t" style="left:956.20px;top:885.00px;font-size:14.53px;line-height:14.53px;color:#e0201c;letter-spacing:-0.300px;z-index:2;">-100.0%</div>
<svg class="r" style="left:944.2px;top:889.9499999999999px;z-index:3" width="9" height="6" viewBox="0 0 9 6"><path d="M0 0.3 H8.6 L4.3 5.6Z" fill="#e0201c"/></svg>
<div class="t" style="left:1098.60px;top:885.00px;font-size:14.53px;line-height:14.53px;color:#4b5563;letter-spacing:-0.300px;z-index:2;">N/A</div>
<div class="r" style="left:1200.0px;top:892.55px;width:6.2px;height:1.2px;z-index:2;background:#7b8390;"></div>
<div class="t" style="left:1285.80px;top:885.00px;font-size:14.53px;line-height:14.53px;color:#4b5563;letter-spacing:-0.300px;z-index:2;">$0.00</div>
<div class="r" style="left:1398.8px;top:892.55px;width:6.2px;height:1.2px;z-index:2;background:#7b8390;"></div>
<div class="t" style="left:1484.30px;top:885.00px;font-size:14.53px;line-height:14.53px;color:#4b5563;letter-spacing:-0.300px;z-index:2;">$0.00</div>
<div class="r" style="left:1597.3px;top:892.55px;width:6.2px;height:1.2px;z-index:2;background:#7b8390;"></div>
<div class="t" style="left:1149.00px;top:934.75px;font-size:14.83px;line-height:14.83px;color:#646d79;letter-spacing:-0.057px;z-index:2;">Table is updated daily. Data from the last 24 hrs may not be reflected.</div>
<div class="r" style="left:332px;top:975.5px;width:1266.6px;height:10px;z-index:1;border:1px solid #e8ebee;border-radius:5px;"></div>
<svg class="r" style="left:350px;top:300px;z-index:3" width="175" height="85" viewBox="0 0 175 85">
<circle cx="81.6" cy="44.5" r="39.5" fill="#a8d9f1"/>
<g fill="none" stroke="#b8609a" stroke-width="1.5">
<path d="M33 20.5 C41 20.5 44 31.7 59.6 31.7"/>
<path d="M23.5 37.8 C31 33 30 50 37 50 C45 50 50 43.5 59.6 43.5"/>
<path d="M33 66 C43 65 46 54.8 59.6 54.8"/>
</g>
<circle cx="24.7" cy="20.4" r="8.2" fill="#7ab342" stroke="#b8609a" stroke-width="1.6"/>
<path d="M21.3 17.5 H28.3 L29 25 H20.6Z" fill="#fff"/><path d="M23 18 Q23 14.8 24.8 14.8 Q26.6 14.8 26.6 18" fill="none" stroke="#fff" stroke-width="0.9"/>
<circle cx="15" cy="44" r="8.6" fill="#9a5b8e"/>
<rect x="9" y="41.3" width="12" height="5.4" rx="1" fill="#fff"/><rect x="10.2" y="42.5" width="9.6" height="3" fill="#9a5b8e" opacity="0.7"/>
<circle cx="24.7" cy="67.1" r="8.2" fill="#fff" stroke="#b8609a" stroke-width="1.6"/>
<rect x="21" y="69" width="2" height="2.4" fill="#f08c1a"/><rect x="23.8" y="66" width="2" height="5.4" fill="#f08c1a"/><rect x="26.6" y="63.3" width="2" height="8.1" fill="#f6a81c"/>
<circle cx="60" cy="31.7" r="2.9" fill="#28307a"/><circle cx="60" cy="43.5" r="2.9" fill="#28307a"/><circle cx="60" cy="54.8" r="2.9" fill="#28307a"/>
<rect x="60.2" y="22.5" width="45.2" height="42" rx="4" fill="#1e9be6" stroke="#28307a" stroke-width="1.3"/>
<rect x="64.6" y="26" width="35.6" height="25.4" rx="2.5" fill="#fff" stroke="#28307a" stroke-width="0.9"/>
<g stroke="#b5dcf3" stroke-width="0.8"><path d="M72 26.5 V51 M80.6 26.5 V51 M89.2 26.5 V51 M65 32.2 H100 M65 39.2 H100 M65 46.2 H100"/></g>
<path d="M79 34 A5.6 5.6 0 1 1 75.6 41.5" fill="none" stroke="#1e9be6" stroke-width="2.6"/>
<circle cx="67.1" cy="57.5" r="2" fill="#cde9f8"/><circle cx="73.6" cy="57.5" r="2" fill="#cde9f8"/><circle cx="80" cy="57.5" r="2" fill="#cde9f8"/>
<rect x="86" y="54.4" width="13.8" height="5.6" rx="2.8" fill="#a8d9f1" stroke="#28307a" stroke-width="0.7"/>
<rect x="113.9" y="12.9" width="34.3" height="21" fill="#28307a"/>
<rect x="110.6" y="9.7" width="36" height="21.4" fill="#fff" stroke="#a8d9f1" stroke-width="0.8"/>
<path d="M111 27 C118 26 120 22 127 23 C134 24 138 21 146.2 19 V30.8 H111Z" fill="#1e9be6"/>
<path d="M111 23.5 C117 23 120 19 127 17.5 C134 16.5 138 17 146.2 13" fill="none" stroke="#f3c94a" stroke-width="0.9"/>
<rect x="125.7" y="39.2" width="42.4" height="10.2" rx="5.1" fill="#1e9be6"/>
<g fill="none" stroke="#f5c518" stroke-width="1.6"><path d="M131.3 47.8 Q134.3 40.8 137.3 47.8 M143.6 47.8 Q146.6 40.8 149.6 47.8 M156 47.8 Q159 40.8 162 47.8"/></g>
<g fill="#f5c518"><circle cx="134.3" cy="41.6" r="1.3"/><circle cx="146.6" cy="41.6" r="1.3"/><circle cx="159" cy="41.6" r="1.3"/></g>
<rect x="124" y="58" width="16.7" height="17.2" rx="2.5" fill="#28307a"/>
<rect x="120.8" y="55.3" width="17.2" height="17.7" rx="2.5" fill="#b8609a"/>
<path d="M122.5 60.3 H124.5 L126.5 67.5 H134.5 L136 61.8 H125.3" fill="none" stroke="#fff" stroke-width="1.2"/>
<circle cx="127.5" cy="69.6" r="1" fill="#fff"/><circle cx="133.3" cy="69.6" r="1" fill="#fff"/>
</svg>
<svg class="r" style="left:893px;top:298px;z-index:3" width="21" height="24" viewBox="0 0 21 24"><circle cx="3" cy="20.8" r="2.7" fill="#e37400"/><rect x="7.4" y="9.5" width="5.2" height="14" rx="2.6" fill="#e37400"/><rect x="14.2" y="0.5" width="5.4" height="23" rx="2.7" fill="#f9ab00"/></svg>
<div class="t" style="left:916.50px;top:297.93px;font-size:13.08px;line-height:13.08px;color:#5f6368;letter-spacing:0.060px;z-index:2;">Google</div>
<div class="t" style="left:917.20px;top:310.93px;font-size:13.08px;line-height:13.08px;color:#5f6368;letter-spacing:-0.400px;z-index:2;">Analytics</div>
<svg class="r" style="left:1002px;top:289px;z-index:3" width="60" height="42" viewBox="0 0 60 42"><g fill="#1ea0dc"><circle cx="17" cy="13" r="11"/><circle cx="31" cy="10.5" r="10"/><circle cx="45" cy="14" r="11"/><circle cx="48" cy="25" r="10.5"/><circle cx="11" cy="24" r="10.5"/><circle cx="22" cy="30" r="10"/><circle cx="37" cy="30.5" r="10"/><rect x="12" y="12" width="36" height="20"/></g></svg>
<div class="t" style="left:1011.70px;top:302.22px;font-size:12.50px;line-height:12.50px;color:#ffffff;font-weight:700;font-style:italic;transform:scaleX(0.6887);transform-origin:0 0;z-index:4;">salesforce</div>
<div class="t" style="left:1097.12px;top:301.84px;font-size:19.62px;line-height:19.62px;color:#2d3e50;-webkit-text-stroke:0.7px #2d3e50;transform:scaleX(0.8847);transform-origin:0 0;z-index:2;">HubSp</div>
<div class="t" style="left:1167.40px;top:303.76px;font-size:17.59px;line-height:17.59px;color:#2d3e50;-webkit-text-stroke:0.7px #2d3e50;z-index:2;">t</div>
<svg class="r" style="left:1145px;top:298px;z-index:4" width="20" height="24" viewBox="0 0 20 24"><g stroke="#f8761f" fill="none"><circle cx="15.2" cy="13.9" r="4.3" stroke-width="2.1"/><path d="M15.2 9.6 V4.5 M12.2 17 L8.3 20.5 M12 11 L3.8 4" stroke-width="1.6"/></g><g fill="#f8761f"><circle cx="15.2" cy="4.2" r="1.9"/><circle cx="3.6" cy="3.4" r="2.1"/><circle cx="8" cy="21" r="1.8"/></g></svg>
</body></html>
